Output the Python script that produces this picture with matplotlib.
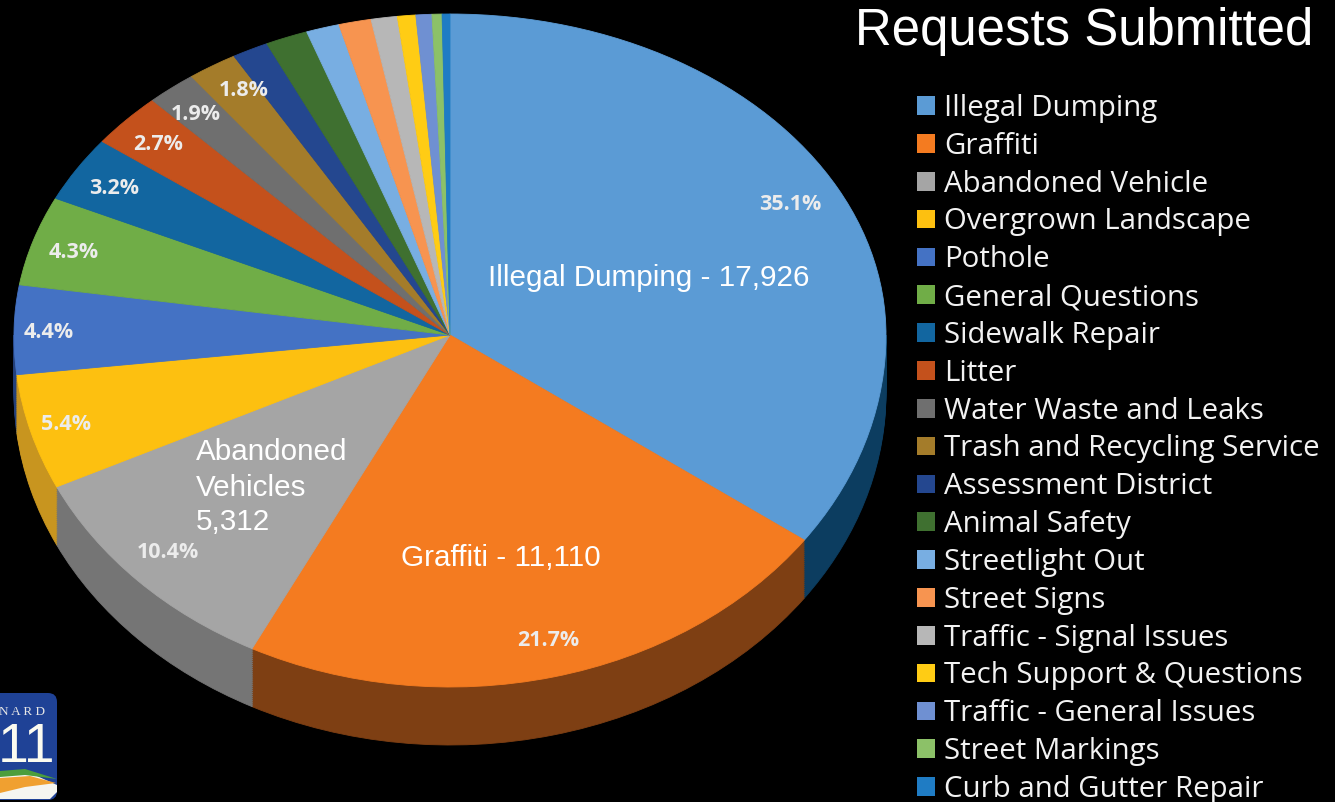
import matplotlib
matplotlib.use("Agg")
import matplotlib.pyplot as plt
from matplotlib.patches import Patch, FancyBboxPatch, Polygon

categories = ["Illegal Dumping", "Graffiti", "Abandoned Vehicle", "Overgrown Landscape", "Pothole",
              "General Questions", "Sidewalk Repair", "Litter", "Water Waste and Leaks",
              "Trash and Recycling Service", "Assessment District", "Animal Safety", "Streetlight Out",
              "Street Signs", "Traffic - Signal Issues", "Tech Support & Questions",
              "Traffic - General Issues", "Street Markings", "Curb and Gutter Repair"]
# apparent slice sizes as drawn on the tilted pie
shares = [34.9, 22.6, 10.4, 5.3, 4.3, 4.5, 3.3, 2.75, 1.85, 1.85, 1.35, 1.57, 1.23, 1.2, 0.97, 0.68, 0.59, 0.37, 0.29]
colors = ["#5b9bd5", "#f47b20", "#a5a5a5", "#fdc010", "#4472c4", "#70ad47", "#1266a0", "#c4511c",
          "#6f6f6f", "#a47c2a", "#24478f", "#3f7030", "#78aee2", "#f79450", "#b7b7b7", "#ffcc14",
          "#6f90d2", "#8cc168", "#1f7cc4"]
side_colors = ["#0c3d60", "#7e3f13", "#757575", "#c8951f", "#24407a", "#3f6a28", "#0b3d60", "#7a3010",
               "#444444", "#6a501a", "#152b58", "#26441c", "#4a6f92", "#98592e", "#707070", "#a08008",
               "#445a84", "#567840", "#124c78"]
pct_labels = [("35.1%", 790, 204), ("21.7%", 548, 640), ("10.4%", 168, 552), ("5.4%", 66, 424),
              ("4.4%", 49, 332), ("4.3%", 74, 252), ("3.2%", 114, 189), ("2.7%", 158, 145),
              ("1.9%", 196, 114), ("1.8%", 244, 91)]
notes = [("Illegal Dumping - 17,926", 488, 278), ("Graffiti - 11,110", 401, 558),
         ("Abandoned", 196, 452), ("Vehicles", 196, 488), ("5,312", 196, 522)]

W, H = 1335, 802
APEX_X, APEX_Y = 450, 335
RX, RY_UP, RY_DOWN = 436, 321, 352
DEPTH = 58

fig = plt.figure(figsize=(W / 100, H / 100), dpi=100, facecolor="black")

def add_ax(top_px, bottom_px):
    ax = fig.add_axes([0, 1 - bottom_px / H, 1, (bottom_px - top_px) / H])
    ax.patch.set_alpha(0)
    return ax

def face(ax, cols, cy=0.0):
    ax.pie(shares, colors=cols, startangle=90, counterclock=False, radius=1, center=(0, cy),
           wedgeprops=dict(linewidth=0.6), normalize=True)
    for p in ax.patches:
        p.set_edgecolor(p.get_facecolor())
        p.set_clip_on(True)

xlim = (-APEX_X / RX, (W - APEX_X) / RX)

ax_down = add_ax(APEX_Y, H)
steps = 30
for i in range(steps, 0, -1):
    face(ax_down, side_colors, cy=-(DEPTH / RY_DOWN) * i / steps)
face(ax_down, colors)
ax_down.set_aspect("auto")
ax_down.set_xlim(xlim)
ax_down.set_ylim(-(H - APEX_Y) / RY_DOWN, 0)

ax_up = add_ax(0, APEX_Y)
face(ax_up, colors)
ax_up.set_aspect("auto")
ax_up.set_xlim(xlim)
ax_up.set_ylim(0, APEX_Y / RY_UP)

ov = fig.add_axes([0, 0, 1, 1])
ov.patch.set_alpha(0)
ov.set_xlim(0, W)
ov.set_ylim(H, 0)
ov.axis("off")

ov.text(1084.5, 32, "Requests Submitted", color="white", fontsize=36.7, family="Liberation Sans",
        ha="center", va="center")
for s, x, y in notes:
    ov.text(x, y, s, color="white", fontsize=21.3, family="Liberation Sans", ha="left", va="center")
for s, x, y in pct_labels:
    ov.text(x, y, s, color="#ececec", fontsize=15.5, family="Open Sans", weight="bold",
            ha="center", va="center")

handles = [Patch(facecolor=c, edgecolor="none", label=n) for c, n in zip(colors, categories)]
FS = 21.2
leg = ov.legend(handles=handles, loc="upper left", bbox_to_anchor=(917, 94),
                bbox_transform=ov.transData, frameon=False,
                prop=dict(family="Open Sans", size=FS), labelspacing=0.30,
                handlelength=0.6, handleheight=0.6, handletextpad=0.31, borderpad=0, borderaxespad=0)
for t in leg.get_texts():
    t.set_color("#f2f2f2")

# logo
ov.add_patch(FancyBboxPatch((-30, 693), 87, 107, boxstyle="round,pad=0,rounding_size=9",
                            facecolor="#1f4296", edgecolor="none"))
ov.add_patch(Polygon([(0, 776), (28, 772), (57, 785), (57, 792), (50, 799), (0, 799)], closed=True,
                     facecolor="#f5f5f0"))
ov.add_patch(Polygon([(0, 771), (25, 769), (57, 779), (25, 775), (0, 777)], closed=True, facecolor="#4c9e3c"))
ov.add_patch(Polygon([(0, 778), (30, 776), (56, 783), (25, 787), (0, 793)], closed=True, facecolor="#f0a030"))
ov.text(22, 712, "N A R D", color="#e6e6e6", fontsize=9.5, family="Liberation Serif", ha="center", va="center")
ov.text(27, 748, "11", color="#fbfbf0", fontsize=40, family="Liberation Sans", ha="center", va="center")

fig.savefig("out.png", dpi=100, facecolor="black")
